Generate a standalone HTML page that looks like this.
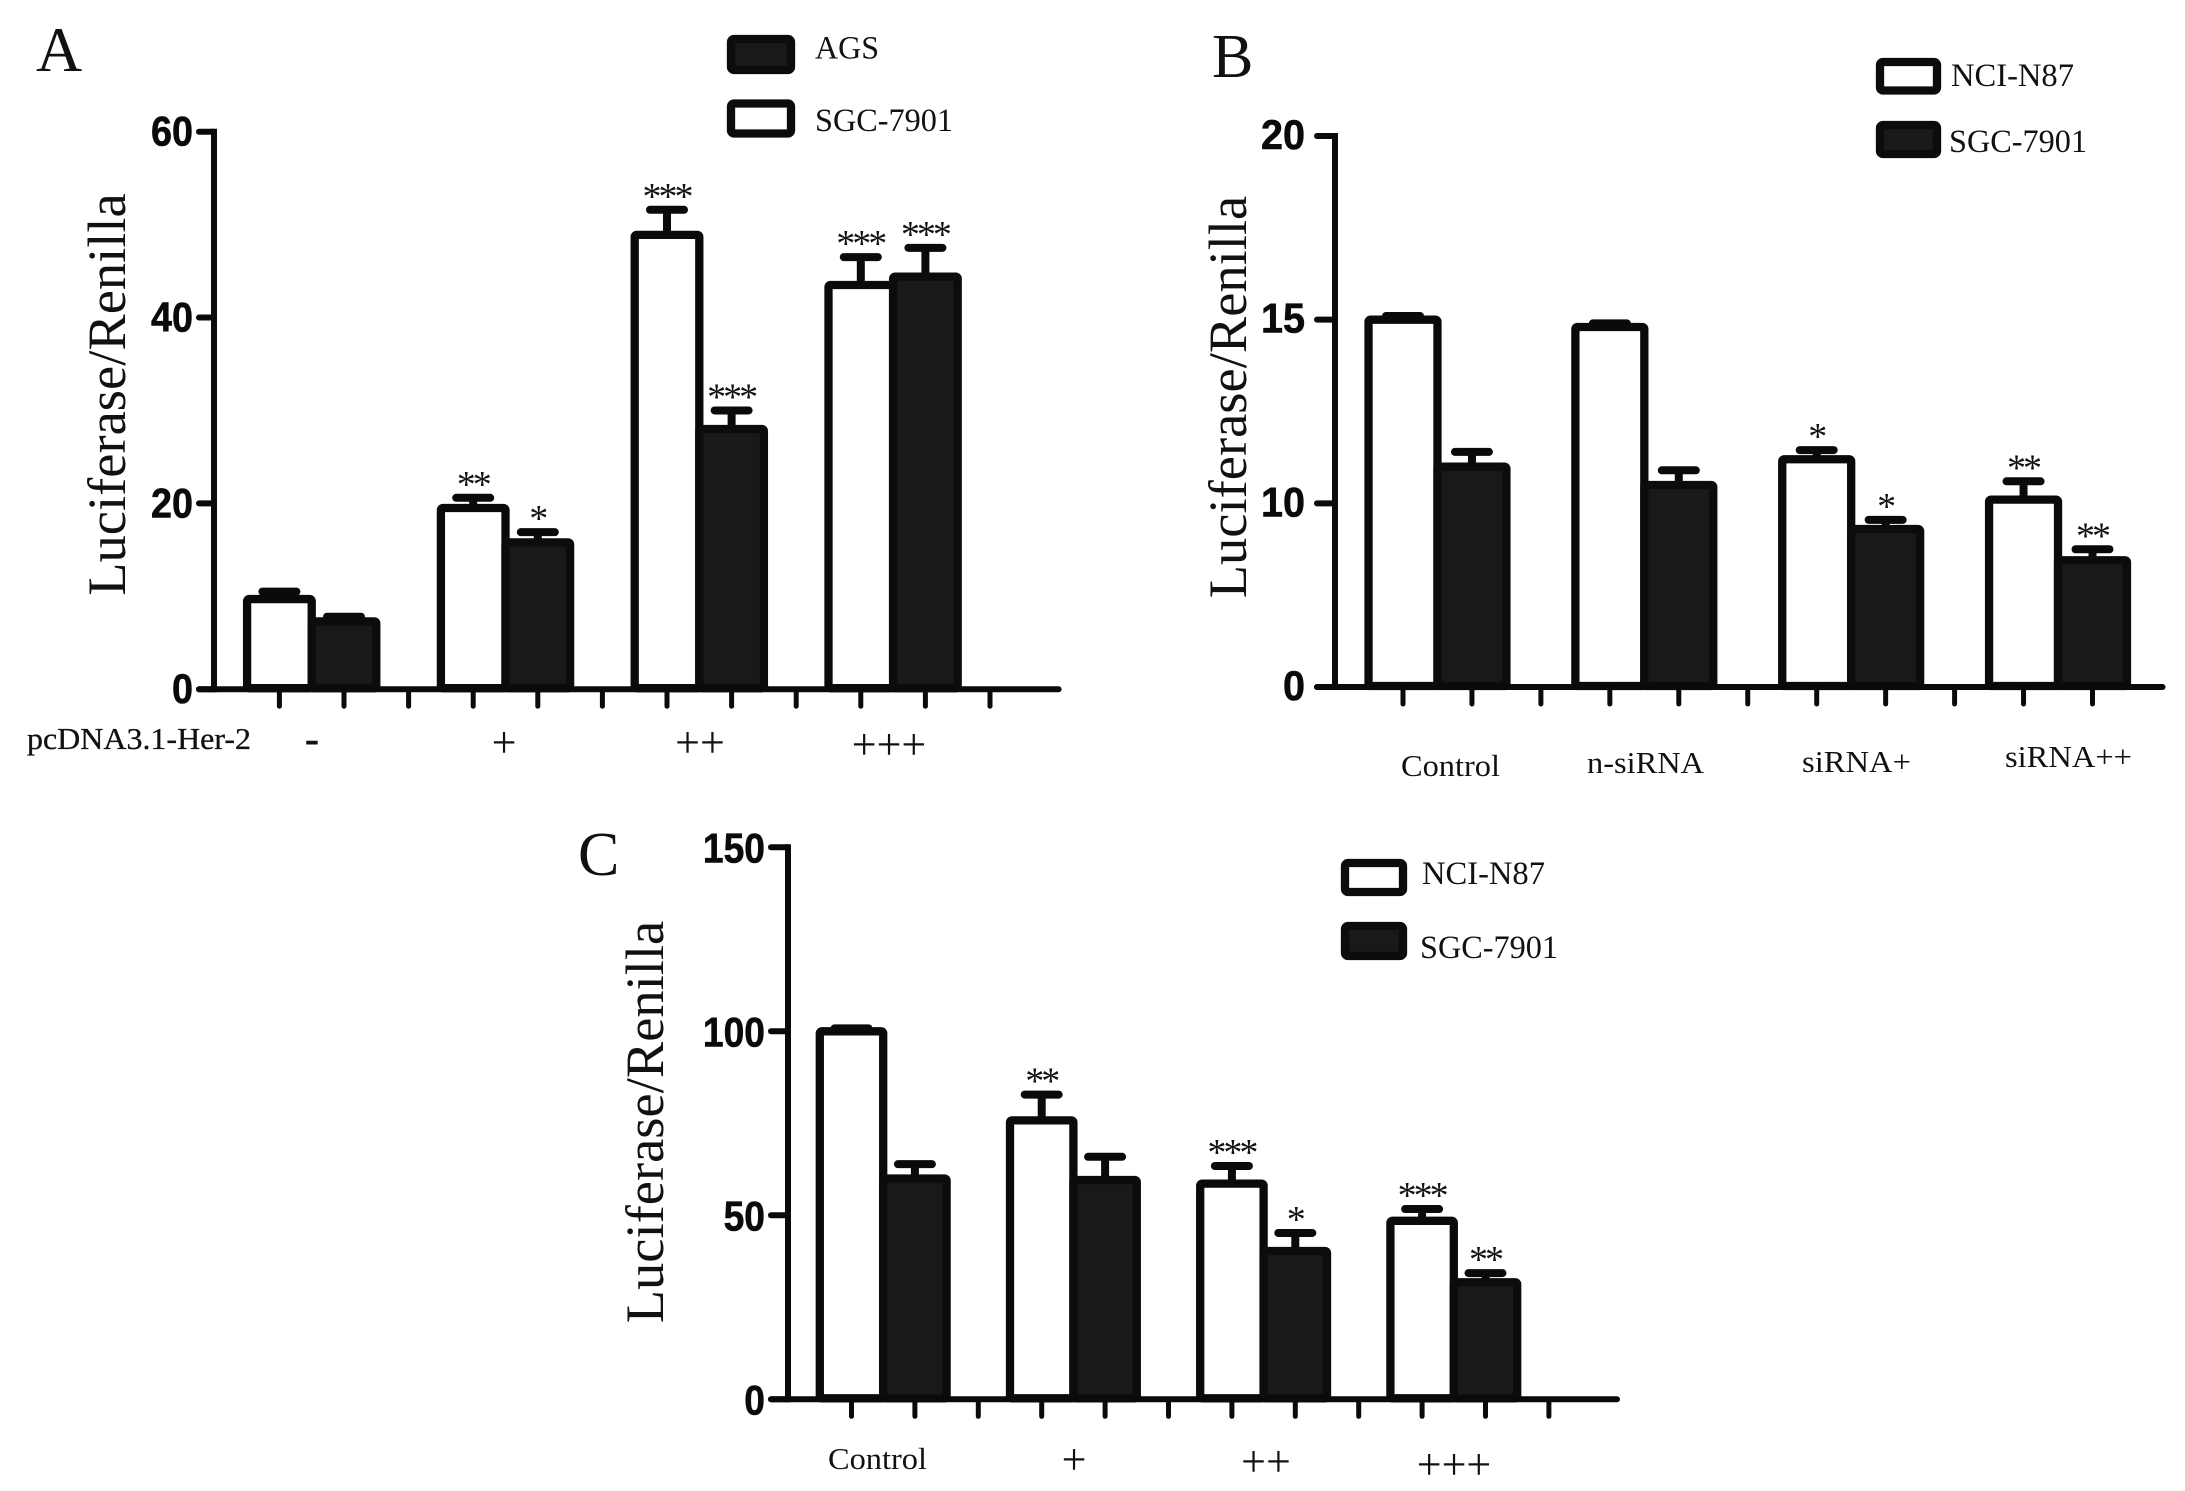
<!DOCTYPE html>
<html lang="en">
<head>
<meta charset="utf-8">
<title>Luciferase/Renilla bar charts</title>
<style>
html,body{margin:0;padding:0;background:#fff;}
svg{display:block;}
text{font-family:"Liberation Serif",serif;fill:#111;}
</style>
</head>
<body>
<svg id="figure" width="2185" height="1491" viewBox="0 0 2185 1491" xmlns="http://www.w3.org/2000/svg">
  <rect width="2185" height="1491" fill="#fff"/>

  <text x="36" y="71" font-size="64">A</text>
  <text x="1212" y="77" font-size="62">B</text>
  <text x="578" y="875" font-size="62">C</text>

  <text transform="translate(125 394.5) rotate(-90)" text-anchor="middle" font-size="54.5">Luciferase/Renilla</text>
  <text transform="translate(1246 397) rotate(-90)" text-anchor="middle" font-size="54.5">Luciferase/Renilla</text>
  <text transform="translate(663 1122) rotate(-90)" text-anchor="middle" font-size="54.5">Luciferase/Renilla</text>

  <g>
    <rect x="731" y="39" width="60" height="31" rx="3" fill="#191919" stroke="#0c0c0c" stroke-width="8.3"/>
    <text x="815" y="58.5" font-size="33" textLength="64" lengthAdjust="spacingAndGlyphs">AGS</text>
    <rect x="731" y="103.5" width="60" height="30" rx="3" fill="#fff" stroke="#0c0c0c" stroke-width="8.3"/>
    <text x="815" y="131" font-size="33" textLength="138" lengthAdjust="spacingAndGlyphs">SGC-7901</text>
  </g>
  <g>
    <rect x="1880" y="62" width="57" height="28.5" rx="3" fill="#fff" stroke="#0c0c0c" stroke-width="8.3"/>
    <text x="1951" y="86" font-size="33" textLength="123" lengthAdjust="spacingAndGlyphs">NCI-N87</text>
    <rect x="1880" y="125" width="57" height="29" rx="3" fill="#191919" stroke="#0c0c0c" stroke-width="8.3"/>
    <text x="1949" y="152" font-size="33" textLength="138" lengthAdjust="spacingAndGlyphs">SGC-7901</text>
  </g>
  <g>
    <rect x="1345" y="863" width="58" height="29" rx="3" fill="#fff" stroke="#0c0c0c" stroke-width="8.3"/>
    <text x="1422" y="884" font-size="33" textLength="123" lengthAdjust="spacingAndGlyphs">NCI-N87</text>
    <rect x="1345" y="926" width="58" height="30" rx="3" fill="#191919" stroke="#0c0c0c" stroke-width="8.3"/>
    <text x="1420" y="958" font-size="33" textLength="138" lengthAdjust="spacingAndGlyphs">SGC-7901</text>
  </g>

  <g font-size="31">
    <text x="27" y="749" textLength="224" lengthAdjust="spacingAndGlyphs" stroke="#111" stroke-width="0.3">pcDNA3.1-Her-2</text>
    <text x="312" y="753" text-anchor="middle" font-weight="bold" font-size="44">-</text>
    <text x="504" y="757" text-anchor="middle" font-size="44">+</text>
    <text x="700" y="757" text-anchor="middle" font-size="44">++</text>
    <text x="889" y="759" text-anchor="middle" font-size="44">+++</text>
  </g>
  <g font-size="31">
    <text x="1401" y="776" textLength="99" lengthAdjust="spacingAndGlyphs">Control</text>
    <text x="1587" y="773" textLength="117" lengthAdjust="spacingAndGlyphs">n-siRNA</text>
    <text x="1802" y="772" textLength="109" lengthAdjust="spacingAndGlyphs">siRNA+</text>
    <text x="2005" y="767" textLength="127" lengthAdjust="spacingAndGlyphs">siRNA++</text>
  </g>
  <g font-size="31">
    <text x="828" y="1469" textLength="99" lengthAdjust="spacingAndGlyphs">Control</text>
    <text x="1074" y="1474" text-anchor="middle" font-size="44">+</text>
    <text x="1266" y="1476" text-anchor="middle" font-size="44">++</text>
    <text x="1454" y="1479" text-anchor="middle" font-size="44">+++</text>
  </g>
</svg>
<script>
const ticksA = [0, 20, 40, 60];
const whiteA = [9.7, 19.5, 48.9, 43.5];
const whiteErrA = [0.8, 1.1, 2.7, 3.0];
const darkA = [7.3, 15.8, 28, 44.4];
const darkErrA = [0.5, 1.1, 2.0, 3.1];
const whiteStarsA = ["", "**", "***", "***"];
const darkStarsA = ["", "*", "***", "***"];

const ticksB = [0, 10, 15, 20];
const whiteB = [15, 14.8, 11.2, 10.1];
const whiteErrB = [0.1, 0.1, 0.25, 0.5];
const darkB = [11, 10.5, 8.6, 6.9];
const darkErrB = [0.4, 0.4, 0.5, 0.6];
const whiteStarsB = ["", "", "*", "**"];
const darkStarsB = ["", "", "*", "**"];

const ticksC = [0, 50, 100, 150];
const whiteC = [100, 75.8, 58.6, 48.5];
const whiteErrC = [0.8, 7.0, 4.8, 3.2];
const darkC = [60, 59.6, 40.3, 31.8];
const darkErrC = [3.9, 6.3, 4.9, 2.5];
const whiteStarsC = ["", "**", "***", "***"];
const darkStarsC = ["", "", "*", "**"];

const NS = "http://www.w3.org/2000/svg";
const fig = document.getElementById("figure");
const INK = "#0a0a0a";

function node(tag, attrs, parent) {
  const el = document.createElementNS(NS, tag);
  for (const k in attrs) el.setAttribute(k, attrs[k]);
  parent.appendChild(el);
  return el;
}

function drawPanel(p) {
  const g = node("g", {}, fig);
  
  

  const step = (p.y0 - p.yTop) / (p.ticks.length - 1);
  const yScale = function (v) {
    let i = 0;
    while (i < p.ticks.length - 2 && v > p.ticks[i + 1]) i++;
    const f = (v - p.ticks[i]) / (p.ticks[i + 1] - p.ticks[i]);
    return p.y0 - (i + f) * step;
  };
  const xScale = function (i) { return p.x0 + i * p.pitch; };

  function drawBar(group, slot, value, err, stars, isDark) {
    const cx = xScale(group * 3 + slot);
    const top = yScale(value);
    const capY = yScale(value + err);
    const half = p.pitch / 2;

    const stem = node("line", { x1: cx, x2: cx, y1: top, y2: capY, stroke: INK, "stroke-width": 8 }, g);
    
    

    const cap = node("line", { x1: cx - 17, x2: cx + 17, y1: capY, y2: capY, stroke: INK, "stroke-width": 8, "stroke-linecap": "round" }, g);
    
    

    const bar = node("rect", {
      x: cx - half, y: top, width: p.pitch, height: p.y0 - 1 - top, rx: 2,
      fill: isDark ? "#191919" : "#ffffff", stroke: isDark ? "#0c0c0c" : INK, "stroke-width": 8.3, "stroke-linejoin": "round"
    }, g);
    
    

    if (stars) {
      const t = node("text", { x: cx - 0.5, y: capY - 1, "text-anchor": "middle", "font-size": 38, "letter-spacing": "-3px" }, g);
      t.textContent = stars;
      
      
    }
  }

  p.white.forEach(function (v, i) {
    drawBar(i, 0, v, p.whiteErr[i], p.whiteStars[i], false);
    drawBar(i, 1, p.dark[i], p.darkErr[i], p.darkStars[i], true);
  });

  const yAxis = node("line", { x1: p.axisX, x2: p.axisX, y1: p.yTop - 3, y2: p.y0 + 3, stroke: INK, "stroke-width": 6 }, g);
  
  

  const xAxis = node("line", { x1: p.xStart, x2: p.xEnd, y1: p.y0, y2: p.y0, stroke: INK, "stroke-width": 6, "stroke-linecap": "round" }, g);
  
  

  for (let i = 0; i < p.xTickCount; i++) {
    const tick = node("line", { x1: xScale(i), x2: xScale(i), y1: p.y0, y2: p.y0 + 17, stroke: INK, "stroke-width": 5, "stroke-linecap": "round" }, g);
    
    
  }

  p.ticks.forEach(function (v) {
    const y = yScale(v);
    const tick = node("line", { x1: p.xStart, x2: p.axisX, y1: y, y2: y, stroke: INK, "stroke-width": 6, "stroke-linecap": "round" }, g);
    
    

    const s = String(v);
    const label = node("text", {
      x: p.labelRight - s.length * p.digitW, y: y + p.tickFont * 0.358 + p.labelShift,
      "font-size": p.tickFont, "font-weight": "bold",
      textLength: s.length * p.digitW, lengthAdjust: "spacingAndGlyphs"
    }, g);
    label.style.fontFamily = '"Liberation Sans", sans-serif';
    label.style.fill = "#0a0a0a";
    label.style.stroke = "#0a0a0a";
    label.style.strokeWidth = "0.6px";
    label.textContent = s;
    
    
  });
}

drawPanel({
  id: "a", ticks: ticksA, white: whiteA, whiteErr: whiteErrA, dark: darkA, darkErr: darkErrA,
  whiteStars: whiteStarsA, darkStars: darkStarsA,
  y0: 689.2, yTop: 131.7, x0: 279.4, pitch: 64.6, axisX: 214, xStart: 199, xEnd: 1058.6,
  xTickCount: 12, labelRight: 193, tickFont: 42, digitW: 21, labelShift: -1
});
drawPanel({
  id: "b", ticks: ticksB, white: whiteB, whiteErr: whiteErrB, dark: darkB, darkErr: darkErrB,
  whiteStars: whiteStarsB, darkStars: darkStarsB,
  y0: 687, yTop: 136, x0: 1403, pitch: 68.95, axisX: 1335, xStart: 1317, xEnd: 2162.5,
  xTickCount: 11, labelRight: 1305, tickFont: 42, digitW: 22, labelShift: -2
});
drawPanel({
  id: "c", ticks: ticksC, white: whiteC, whiteErr: whiteErrC, dark: darkC, darkErr: darkErrC,
  whiteStars: whiteStarsC, darkStars: darkStarsC,
  y0: 1399.3, yTop: 847.3, x0: 851.5, pitch: 63.4, axisX: 788, xStart: 771, xEnd: 1617,
  xTickCount: 12, labelRight: 765, tickFont: 42, digitW: 20.7, labelShift: 0
});
</script>
</body>
</html>
